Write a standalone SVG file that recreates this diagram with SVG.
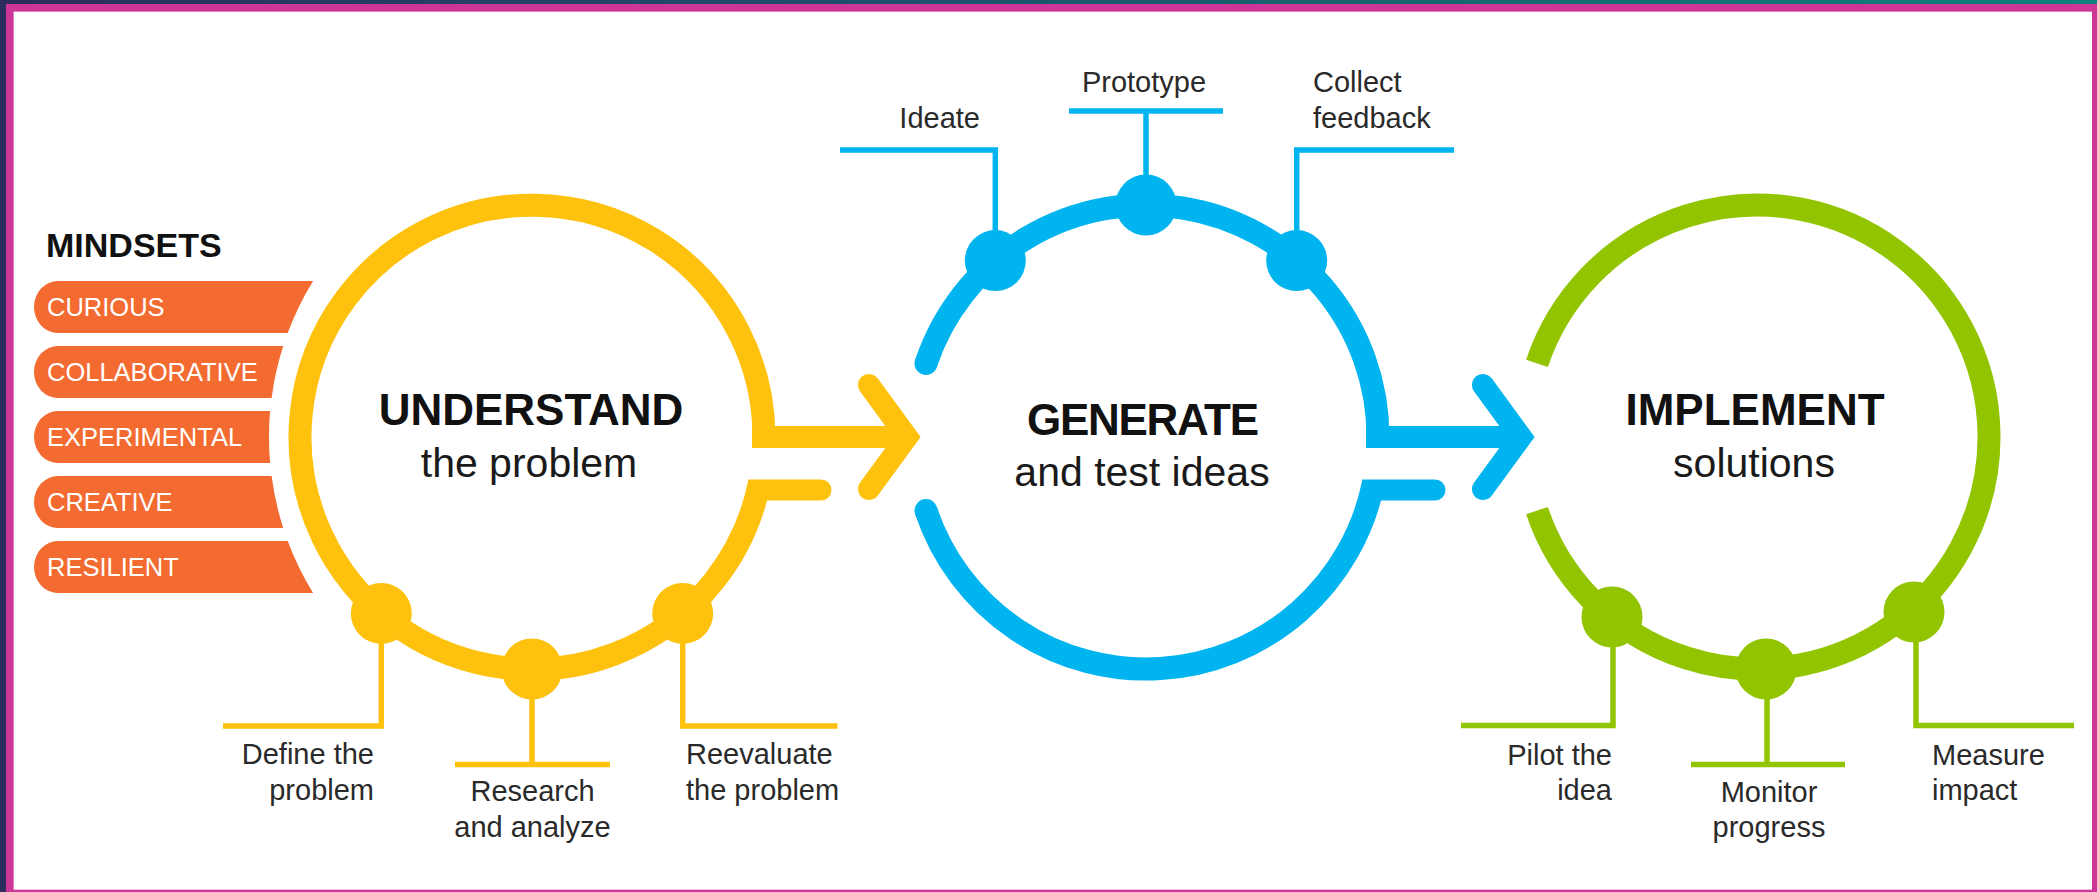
<svg xmlns="http://www.w3.org/2000/svg" width="2097" height="892" viewBox="0 0 2097 892">
  <defs>
    <linearGradient id="topband" x1="0" y1="0" x2="1" y2="0">
      <stop offset="0" stop-color="#2b2d5c"/>
      <stop offset="1" stop-color="#0e807b"/>
    </linearGradient>
    <style>
      .ring { fill: none; stroke-width: 23; stroke-linecap: butt; }
      .arrow { fill: none; stroke-width: 22; stroke-linecap: butt; }
      .chev { fill: none; stroke-width: 22; stroke-linecap: round; stroke-linejoin: miter; }
      .lead { fill: none; stroke-width: 5.5; stroke-linecap: butt; stroke-linejoin: miter; }
      .yel { stroke: #fec20e; }
      .yelf { fill: #fec20e; }
      .blu { stroke: #00b4ef; }
      .bluf { fill: #00b4ef; }
      .grn { stroke: #92c400; }
      .grnf { fill: #92c400; }
      .tab { fill: #f36b31; }
      .tabtxt { font-family: "Liberation Sans", Arial, sans-serif; font-size: 25.5px; fill: #ffffff; }
      .head { font-family: "Liberation Sans", Arial, sans-serif; font-size: 34px; font-weight: bold; fill: #111111; }
      .title { font-family: "Liberation Sans", Arial, sans-serif; font-size: 44px; font-weight: bold; fill: #111111; text-anchor: middle; }
      .sub { font-family: "Liberation Sans", Arial, sans-serif; font-size: 41px; fill: #1a1a1a; text-anchor: middle; }
      .lbl { font-family: "Liberation Sans", Arial, sans-serif; font-size: 29px; fill: #2a2a2a; }
      .end { text-anchor: end; }
      .mid { text-anchor: middle; }
    </style>
  </defs>

  <!-- page frame -->
  <g id="frame">
    <rect x="0" y="0" width="2097" height="892" fill="#cd3597"/>
    <rect x="0" y="0" width="2097" height="4" fill="url(#topband)"/>
    <rect x="0" y="0" width="6" height="892" fill="#2b2d5c"/>
    <rect x="13" y="11" width="2079" height="879" fill="#e27cbf"/>
    <rect x="14" y="12" width="2078" height="877.5" fill="#ffffff"/>
  </g>

  <!-- mindsets list -->
  <g id="mindsets">
    <text class="head" x="46" y="257">MINDSETS</text>
    <path class="tab" d="M58 281 H313.1 A298 298 0 0 0 287.7 333 H58 A24 26 0 0 1 58 281 Z"/>
    <text class="tabtxt" x="47" y="316">CURIOUS</text>
    <path class="tab" d="M58 346 H283.2 A298 298 0 0 0 271.6 398 H58 A24 26 0 0 1 58 346 Z"/>
    <text class="tabtxt" x="47" y="381">COLLABORATIVE</text>
    <path class="tab" d="M58 411 H270.1 A298 298 0 0 0 270.1 463 H58 A24 26 0 0 1 58 411 Z"/>
    <text class="tabtxt" x="47" y="446">EXPERIMENTAL</text>
    <path class="tab" d="M58 476 H271.6 A298 298 0 0 0 283.2 528 H58 A24 26 0 0 1 58 476 Z"/>
    <text class="tabtxt" x="47" y="511">CREATIVE</text>
    <path class="tab" d="M58 541 H287.7 A298 298 0 0 0 313.1 593 H58 A24 26 0 0 1 58 541 Z"/>
    <text class="tabtxt" x="47" y="576">RESILIENT</text>
  </g>

  <!-- stage 1: understand -->
  <g id="node-understand">
    <path class="ring yel" d="M759.6 482.1 A232 232 0 1 1 764 437"/>
    <path class="yelf" d="M748 479.5 H821 A10.5 10.5 0 0 1 821 500.5 H748 Z"/>
    <text class="title" x="531" y="425">UNDERSTAND</text>
    <text class="sub" x="529" y="477">the problem</text>
  </g>
  <g id="step-define">
    <path class="lead yel" d="M381.3 613 V726 H223"/>
    <circle class="yelf" cx="381.3" cy="613.4" r="30.5"/>
    <text class="lbl end" x="374" y="764">Define the</text>
    <text class="lbl end" x="374" y="800">problem</text>
  </g>
  <g id="step-research">
    <path class="lead yel" d="M532 669 V764.5 M455 764.5 H610"/>
    <circle class="yelf" cx="532" cy="669" r="30.5"/>
    <text class="lbl mid" x="532.5" y="801">Research</text>
    <text class="lbl mid" x="532.5" y="837">and analyze</text>
  </g>
  <g id="step-reevaluate">
    <path class="lead yel" d="M682.7 613 V726 H837.5"/>
    <circle class="yelf" cx="682.7" cy="613.4" r="30.5"/>
    <text class="lbl" x="686" y="764">Reevaluate</text>
    <text class="lbl" x="686" y="800">the problem</text>
  </g>

  <!-- stage 2: generate -->
  <g id="node-generate">
    <path class="ring blu" d="M926 363.4 A232 232 0 0 1 1378 437"/>
    <path class="ring blu" d="M1373.6 482.1 A232 232 0 0 1 926 510.6"/>
    <circle class="bluf" cx="926" cy="363.4" r="11.5"/>
    <circle class="bluf" cx="926" cy="510.6" r="11.5"/>
    <path class="bluf" d="M1362 479.5 H1435 A10.5 10.5 0 0 1 1435 500.5 H1362 Z"/>
    <text class="title" x="1143" y="435" textLength="232">GENERATE</text>
    <text class="sub" x="1142" y="486">and test ideas</text>
  </g>
  <g id="step-ideate">
    <path class="lead blu" d="M995.3 261 V150 H840"/>
    <circle class="bluf" cx="995.3" cy="260.6" r="30.5"/>
    <text class="lbl end" x="980" y="128">Ideate</text>
  </g>
  <g id="step-prototype">
    <path class="lead blu" d="M1146 205 V111 M1069 111 H1223"/>
    <circle class="bluf" cx="1146" cy="205" r="30.5"/>
    <text class="lbl mid" x="1144" y="92">Prototype</text>
  </g>
  <g id="step-feedback">
    <path class="lead blu" d="M1296.7 261 V150 H1454"/>
    <circle class="bluf" cx="1296.7" cy="260.6" r="30.5"/>
    <text class="lbl" x="1313" y="92">Collect</text>
    <text class="lbl" x="1313" y="128">feedback</text>
  </g>

  <!-- stage 3: implement -->
  <g id="node-implement">
    <path class="ring grn" stroke-linecap="round" d="M1537 363.4 A232 232 0 1 1 1537 510.6"/>
    <text class="title" x="1755" y="425">IMPLEMENT</text>
    <text class="sub" x="1754" y="477">solutions</text>
  </g>
  <g id="step-pilot">
    <path class="lead grn" d="M1613 617 V725.5 H1461"/>
    <circle class="grnf" cx="1612" cy="617" r="30.5"/>
    <text class="lbl end" x="1612" y="765">Pilot the</text>
    <text class="lbl end" x="1612" y="800">idea</text>
  </g>
  <g id="step-monitor">
    <path class="lead grn" d="M1767 669 V764.5 M1691 764.5 H1845"/>
    <circle class="grnf" cx="1766" cy="669" r="30.5"/>
    <text class="lbl mid" x="1769" y="801.5">Monitor</text>
    <text class="lbl mid" x="1769" y="837">progress</text>
  </g>
  <g id="step-measure">
    <path class="lead grn" d="M1916 612 V725.5 H2074"/>
    <circle class="grnf" cx="1914" cy="612" r="30.5"/>
    <text class="lbl" x="1932" y="765">Measure</text>
    <text class="lbl" x="1932" y="800">impact</text>
  </g>

  <!-- arrows between stages -->
  <g id="connectors">
    <path class="arrow yel" d="M752 437 H907"/>
    <path class="chev yel" d="M869 385 L907 437 L869 489"/>
    <path class="arrow blu" d="M1366 437 H1521"/>
    <path class="chev blu" d="M1483 385 L1521 437 L1483 489"/>
  </g>
</svg>
